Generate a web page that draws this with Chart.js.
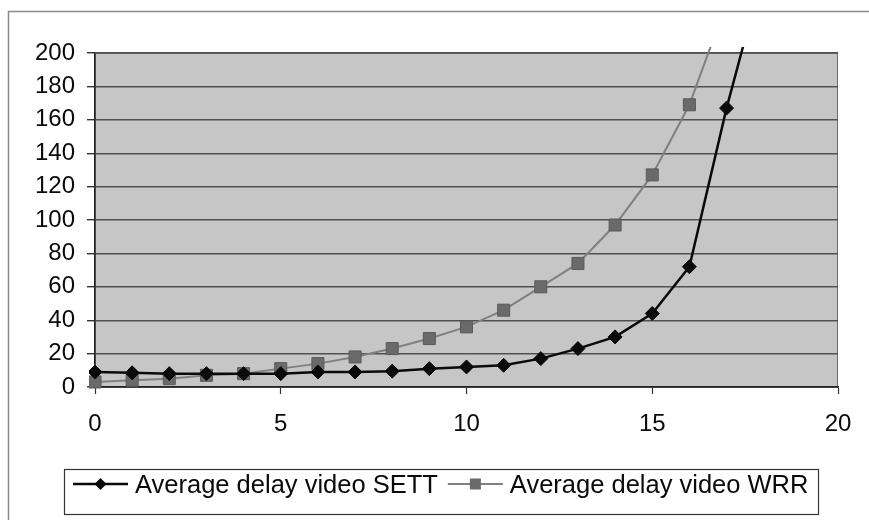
<!DOCTYPE html>
<html>
<head>
<meta charset="utf-8">
<script src="https://cdn.jsdelivr.net/npm/chart.js@4.4.0/dist/chart.umd.min.js"></script>
<style>
  html, body { margin: 0; padding: 0; background: #fff; }
  #wrap { width: 869px; height: 520px; }
</style>
</head>
<body>
<div id="wrap"><canvas id="myChart" width="869" height="520"></canvas></div>
<script>
// data
const xValues = [0, 1, 2, 3, 4, 5, 6, 7, 8, 9, 10, 11, 12, 13, 14, 15, 16, 17, 18];
const settDelay = [9, 8.5, 8, 8, 8, 8, 9, 9, 9.5, 11, 12, 13, 17, 23, 30, 44, 72, 167, 250];
const wrrDelay = [3, 4, 5, 7, 8, 11, 14, 18, 23, 29, 36, 46, 60, 74, 97, 127, 169, 230];
const seriesNames = ['Average delay video SETT', 'Average delay video WRR'];
const xTicks = [0, 5, 10, 15, 20];
const yTicks = [0, 20, 40, 60, 80, 100, 120, 140, 160, 180, 200];

const FONT = "'Liberation Sans', Arial, sans-serif";

function toPoints(values) {
  return values.map((v, i) => ({ x: xValues[i], y: v }));
}

// white page, outer frame and grey plot area
const backdrop = {
  id: 'backdrop',
  beforeDraw(chart) {
    const ctx = chart.ctx;
    const a = chart.chartArea;
    ctx.save();
    ctx.fillStyle = '#ffffff';
    ctx.fillRect(0, 0, chart.width, chart.height);
    ctx.strokeStyle = '#8a8a8a';
    ctx.lineWidth = 1.5;
    ctx.strokeRect(8.5, 11.5, chart.width + 20, chart.height + 20);
    ctx.fillStyle = '#c6c6c6';
    ctx.fillRect(a.left, a.top, a.right - a.left, a.bottom - a.top);
    ctx.strokeStyle = '#6e6e6e';
    ctx.lineWidth = 1;
    ctx.strokeRect(a.left + 0.5, a.top + 0.5, a.right - a.left - 1, a.bottom - a.top);
    ctx.restore();
  }
};

// boxed legend with line + marker samples, like the original
const boxLegend = {
  id: 'boxLegend',
  afterDraw(chart) {
    const ctx = chart.ctx;
    ctx.save();
    ctx.strokeStyle = '#333';
    ctx.lineWidth = 1.2;
    ctx.strokeRect(64.5, 469.5, 754, 45);
    ctx.font = '25.5px ' + FONT;
    ctx.textBaseline = 'alphabetic';
    let x = 73;
    const cy = 484;
    chart.data.datasets.forEach(ds => {
      ctx.strokeStyle = ds.borderColor;
      ctx.lineWidth = ds.borderWidth;
      ctx.beginPath();
      ctx.moveTo(x, cy);
      ctx.lineTo(x + 55, cy);
      ctx.stroke();
      const mx = x + 27.5;
      ctx.fillStyle = ds.pointBackgroundColor;
      if (ds.pointStyle === 'rectRot') {
        const r = 6;
        ctx.beginPath();
        ctx.moveTo(mx, cy - r);
        ctx.lineTo(mx + r, cy);
        ctx.lineTo(mx, cy + r);
        ctx.lineTo(mx - r, cy);
        ctx.closePath();
        ctx.fill();
      } else {
        ctx.fillRect(mx - 5.5, cy - 5.5, 11, 11);
      }
      ctx.fillStyle = '#0a0a0a';
      ctx.fillText(ds.label, x + 62, 493);
      x += 62 + ctx.measureText(ds.label).width + 10;
    });
    ctx.restore();
  }
};

const ctx = document.getElementById('myChart').getContext('2d');

new Chart(ctx, {
  type: 'line',
  data: {
    datasets: [{
      label: seriesNames[0],
      data: toPoints(settDelay),
      borderColor: '#0a0a0a',
      borderWidth: 2.5,
      pointStyle: 'rectRot',
      pointRadius: 7,
      pointBackgroundColor: '#0a0a0a',
      pointBorderColor: '#0a0a0a',
      pointBorderWidth: 1,
      tension: 0,
      clip: { left: 6, top: 6, right: 6, bottom: 6 }
    }, {
      label: seriesNames[1],
      data: toPoints(wrrDelay),
      borderColor: '#808080',
      borderWidth: 2,
      pointStyle: 'rect',
      pointRadius: 8.5,
      pointBackgroundColor: '#6a6a6a',
      pointBorderColor: '#5a5a5a',
      pointBorderWidth: 1,
      tension: 0,
      clip: { left: 6, top: 6, right: 6, bottom: 6 }
    }]
  },
  options: {
    responsive: false,
    animation: false,
    layout: { padding: { top: 53, right: 31, left: 0, bottom: 0 } },
    plugins: {
      legend: { display: false },
      tooltip: { enabled: false }
    },
    scales: {
      x: {
        type: 'linear',
        min: 0,
        max: 20,
        afterBuildTicks: scale => { scale.ticks = xTicks.map(v => ({ value: v })); },
        afterFit: scale => { scale.height = 133; },
        grid: { drawOnChartArea: false, tickLength: 7, tickColor: '#333', tickWidth: 1.2 },
        border: { color: '#222', width: 1.5 },
        ticks: { color: '#0a0a0a', padding: 16, font: { family: FONT, size: 24 } }
      },
      y: {
        min: 0,
        max: 200,
        afterBuildTicks: scale => { scale.ticks = yTicks.map(v => ({ value: v })); },
        afterFit: scale => { scale.width = 95; },
        grid: { color: '#505050', lineWidth: 1.4, tickLength: 8, tickColor: '#333' },
        border: { color: '#222', width: 1.5 },
        ticks: { color: '#0a0a0a', padding: 12, font: { family: FONT, size: 24 } }
      }
    }
  },
  plugins: [backdrop, boxLegend]
});
</script>
</body>
</html>
